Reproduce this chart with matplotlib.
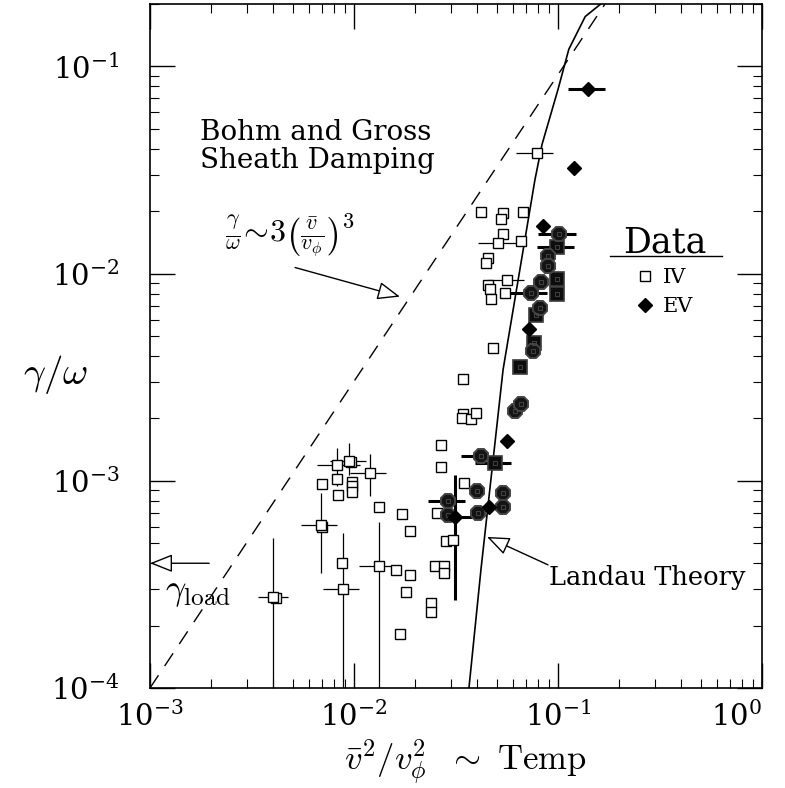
import matplotlib.pyplot as plt
import numpy as np

plt.rcParams['font.family'] = 'DejaVu Serif'
plt.rcParams['mathtext.fontset'] = 'cm'

# theory curves
bohm_x = [1.0e-3, 0.17]
bohm_y = [1.0e-4, 0.20]
landau_x = [0.0366, 0.0419, 0.0538, 0.0771, 0.0835, 0.100, 0.113, 0.136, 0.163, 0.190]
landau_y = [1.0e-4, 3.72e-4, 3.44e-3, 0.0284, 0.0420, 0.0774, 0.121, 0.174, 0.201, 0.206]
gamma_load = 4.0e-4

# IV data, open squares without error bars
iv_x = [0.00415, 0.0070, 0.00697, 0.00826, 0.00835, 0.0097, 0.00978, 0.00978, 0.00978,
        0.0133, 0.0172, 0.0188, 0.00874, 0.0161, 0.0188, 0.0180, 0.0238, 0.0238, 0.0168,
        0.0267, 0.0267, 0.0255, 0.0282, 0.0306, 0.0249, 0.0276, 0.0276, 0.0342, 0.0342,
        0.0338, 0.0375, 0.0396, 0.0346, 0.0480, 0.0419, 0.0538, 0.0526, 0.0674, 0.0538,
        0.0659, 0.0454, 0.0444, 0.0454, 0.0464, 0.0469, 0.0550]
iv_y = [2.72e-4, 6.0e-4, 9.6e-4, 1.02e-3, 8.5e-4, 1.23e-3, 9.9e-4, 9.4e-4, 8.8e-4,
        7.5e-4, 6.9e-4, 5.7e-4, 4.0e-4, 3.7e-4, 3.5e-4, 2.9e-4, 2.58e-4, 2.33e-4, 1.82e-4,
        1.49e-3, 1.16e-3, 7.0e-4, 5.1e-4, 5.2e-4, 3.9e-4, 3.9e-4, 3.6e-4, 3.1e-3, 2.09e-3,
        2.02e-3, 1.99e-3, 2.13e-3, 9.8e-4, 4.39e-3, 0.0199, 0.0195, 0.0184, 0.0199, 0.0156,
        0.0144, 0.0119, 0.0113, 0.00885, 0.00847, 0.00757, 0.00809]

# IV data with (thin) error bars
ive_x = [0.00401, 0.00689, 0.00826, 0.00945, 0.0120, 0.00883, 0.0133, 0.0508, 0.0562, 0.0789]
ive_y = [2.75e-4, 6.1e-4, 1.19e-3, 1.25e-3, 1.09e-3, 3.0e-4, 3.9e-4, 0.0141, 0.00936, 0.0380]
ive_xlo = [0.00338, 0.0055, 0.00659, 0.00763, 0.00956, 0.00705, 0.0106, 0.0405, 0.0449, 0.0622]
ive_xhi = [0.00475, 0.00826, 0.0107, 0.0115, 0.0144, 0.0106, 0.0159, 0.0629, 0.0681, 0.0945]
ive_ylo = [5e-5, 3.6e-4, 9.4e-4, 1.07e-3, 8.4e-4, 5e-5, 5e-5, 0.0141, 0.00885, 0.0380]
ive_yhi = [5.3e-4, 8.7e-4, 1.44e-3, 1.53e-3, 1.35e-3, 5.6e-4, 6.3e-4, 0.0141, 0.00978, 0.0380]

# EV data, filled diamonds
ev_x = [0.140, 0.120, 0.0844, 0.0721, 0.0562, 0.0459, 0.0313]
ev_y = [0.0774, 0.0325, 0.0169, 0.00542, 0.00156, 0.00075, 0.00067]

# overlapping IV/EV points (dark blobs)
oct_x = [0.101, 0.0893, 0.0893, 0.0825, 0.0737, 0.0816, 0.0754, 0.0615, 0.0659, 0.0419,
         0.0401, 0.0538, 0.0538, 0.0405, 0.0289, 0.0289]
oct_y = [0.0156, 0.0121, 0.0109, 0.00915, 0.00809, 0.00685, 0.00425, 0.00218, 0.00236, 0.00132,
         0.00089, 0.00087, 0.00075, 0.00070, 0.00080, 0.00068]
sq_x = [0.0989, 0.0989, 0.0989, 0.0780, 0.0763, 0.0651, 0.0491]
sq_y = [0.0135, 0.00946, 0.00800, 0.00634, 0.00464, 0.00356, 0.00122]

# thick error bars on the EV-type points
evb_x = [0.140, 0.0313, 0.101, 0.0737, 0.0419, 0.0289, 0.0989, 0.0491]
evb_y = [0.0774, 0.00067, 0.0156, 0.00809, 0.00132, 0.00080, 0.0135, 0.00122]
evb_xlo = [0.112, 0.0244, 0.0798, 0.0582, 0.0335, 0.0230, 0.0789, 0.0392]
evb_xhi = [0.170, 0.0379, 0.123, 0.0883, 0.0454, 0.0350, 0.120, 0.0589]
evb_ylo = [0.0774, 0.000266, 0.0156, 0.00809, 0.00132, 0.00080, 0.0135, 0.00122]
evb_yhi = [0.0774, 0.00107, 0.0156, 0.00809, 0.00132, 0.00080, 0.0135, 0.00122]


def err(v, lo, hi):
    v, lo, hi = np.array(v), np.array(lo), np.array(hi)
    return [v - lo, hi - v]


fig = plt.figure(figsize=(7.85, 7.88), dpi=100)
ax = fig.add_axes([150 / 785, 1 - 688 / 788, 612 / 785, 684 / 788])
ax.set_xscale('log')
ax.set_yscale('log')
ax.set_xlim(1e-3, 1.0)
ax.set_ylim(1e-4, 0.2)

ax.plot(bohm_x, bohm_y, color='k', lw=1.0, dashes=(11, 8))
ax.plot(landau_x, landau_y, color='k', lw=1.2)

ax.errorbar(ive_x, ive_y, xerr=err(ive_x, ive_xlo, ive_xhi), yerr=err(ive_y, ive_ylo, ive_yhi),
            fmt='none', ecolor='k', elinewidth=0.9, capsize=0, zorder=2)
ax.errorbar(evb_x, evb_y, xerr=err(evb_x, evb_xlo, evb_xhi), yerr=err(evb_y, evb_ylo, evb_yhi),
            fmt='none', ecolor='k', elinewidth=2.2, capsize=0, zorder=2)

sq_kw = dict(ls='none', marker='s', ms=7.5, mfc='white', mec='k', mew=1.0)
iv_handle, = ax.plot(iv_x, iv_y, zorder=3, **sq_kw)
ax.plot(ive_x, ive_y, zorder=3, **sq_kw)
ax.plot(sq_x, sq_y, ls='none', marker='s', ms=9.5, mfc='#0d0d0d', mec='#3c3c3c', mew=1.2, zorder=4)
ax.plot(oct_x, oct_y, ls='none', marker='8', ms=10.5, mfc='#141414', mec='#444444', mew=1.4, zorder=4)
ax.plot(sq_x + oct_x, sq_y + oct_y, ls='none', marker='s', ms=3.2, mfc='none', mec='#4a4a4a',
        mew=0.6, zorder=5)
ev_handle, = ax.plot(ev_x, ev_y, ls='none', marker='D', ms=7, mfc='k', mec='k', zorder=5)

# annotations
arrow = dict(arrowstyle='-|>,head_length=0.7,head_width=0.28', fc='white', ec='k', lw=1.0,
             mutation_scale=20, shrinkA=0, shrinkB=0)
ax.annotate('', xy=(1.0e-3, gamma_load), xytext=(0.00195, gamma_load), arrowprops=arrow,
            annotation_clip=False)
ax.text(0.025, 0.140, r'$\gamma_{\rm load}$', transform=ax.transAxes, fontsize=26,
        ha='left', va='center')
ax.annotate('', xy=(0.0168, 0.00774), xytext=(0.00514, 0.0107), arrowprops=arrow)
ax.text(0.229, 0.662, r'$\frac{\gamma}{\omega}\!\sim\!3\left(\frac{\bar{v}}{v_{\phi}}\right)^{3}$',
        transform=ax.transAxes, fontsize=23, ha='center', va='center')
ax.text(0.082, 0.792, 'Bohm and Gross\nSheath Damping', transform=ax.transAxes, fontsize=20,
        ha='left', va='center', linespacing=1.05)
ax.annotate('', xy=(0.0449, 0.000536), xytext=(0.0893, 0.000393), arrowprops=arrow)
ax.text(0.652, 0.162, 'Landau Theory', transform=ax.transAxes, fontsize=18.5,
        ha='left', va='center')

leg = ax.legend([iv_handle, ev_handle], ['IV', 'EV'], title='Data', loc='upper center',
                bbox_to_anchor=(0.842, 0.692), frameon=False, fontsize=15, title_fontsize=25,
                handlelength=0.8, handletextpad=0.45, labelspacing=0.45, borderpad=0)
ax.plot([0.752, 0.935], [0.632, 0.632], transform=ax.transAxes, color='k', lw=1.0)

ax.tick_params(which='both', direction='in', top=True, right=True, labelsize=21)
ax.tick_params(which='major', length=18, width=1.0, pad=10)
ax.tick_params(which='minor', length=6.5, width=0.8)
ax.tick_params(axis='y', which='major', pad=22)
for s in ax.spines.values():
    s.set_linewidth(1.2)

ax.set_xlabel(r'$\bar{v}^2/v_\phi^2\ \ \sim\ \mathrm{Temp}$', fontsize=25, va='center')
ax.xaxis.set_label_coords(0.515, -0.108)
ax.set_ylabel(r'$\gamma/\omega$', fontsize=28, rotation=0, ha='center', va='center')
ax.yaxis.set_label_coords(-0.155, 0.458)

# keep the right-most tick label inside the canvas
fig.canvas.draw()
for t in ax.get_xticklabels():
    if t.get_text().endswith('{10^{0}}$'):
        t.set_ha('right')

fig.savefig('out.png', dpi=100)
